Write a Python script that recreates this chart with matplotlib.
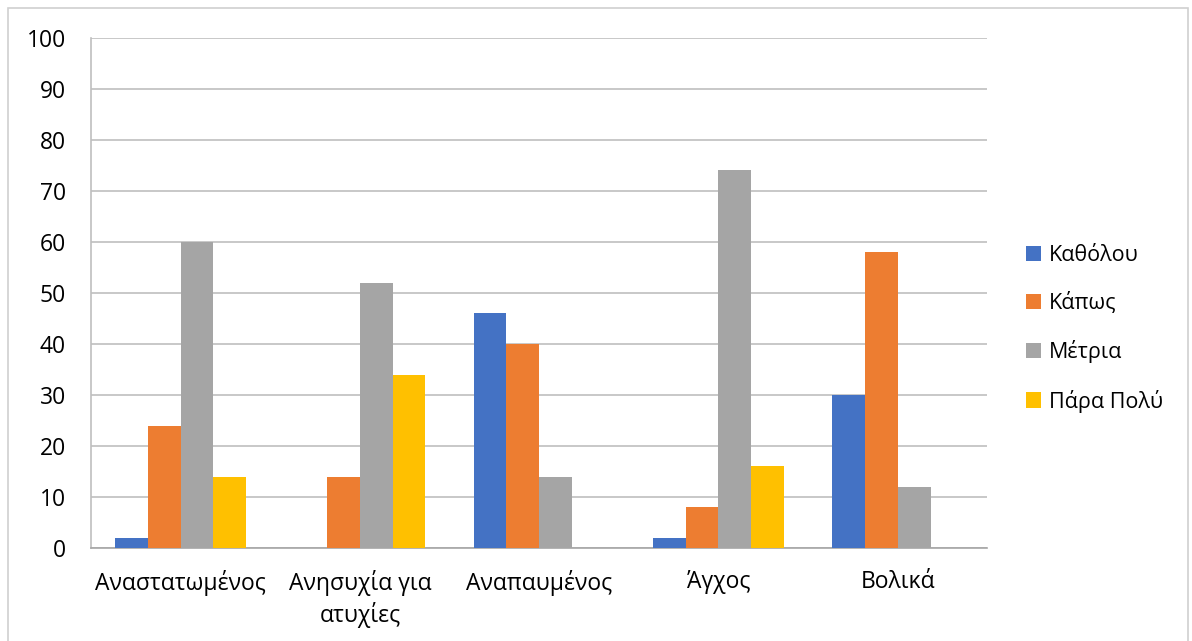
import numpy as np
import matplotlib.pyplot as plt
from matplotlib.patches import Rectangle

plt.rcParams['font.family'] = ['Open Sans', 'DejaVu Sans']

categories = ["Αναστατωμένος", "Ανησυχία για\nατυχίες", "Αναπαυμένος", "Άγχος", "Βολικά"]
series_names = ["Καθόλου", "Κάπως", "Μέτρια", "Πάρα Πολύ"]
katholou = [2, 0, 46, 2, 30]
kapos = [24, 14, 40, 8, 58]
metria = [60, 52, 14, 74, 12]
para_poly = [14, 34, 0, 16, 0]
colors = ["#4472C4", "#ED7D31", "#A5A5A5", "#FFC000"]

fig = plt.figure(figsize=(11.92, 6.41), dpi=100)
ax = fig.add_axes([0.0763, 0.145, 0.752, 0.796])

x = np.arange(len(categories))
w = 0.183
for i, (vals, name) in enumerate(zip([katholou, kapos, metria, para_poly], series_names)):
    ax.bar(x + (i - 1.5) * w, vals, width=w, color=colors[i], label=name, zorder=3)

ax.set_xlim(-0.5, len(categories) - 0.5)
ax.set_ylim(0, 100)
ax.set_yticks(range(0, 101, 10))
ax.yaxis.grid(True, color="#BFBFBF", linewidth=1.2, zorder=0)
ax.set_axisbelow(True)
for side in ["top", "right"]:
    ax.spines[side].set_visible(False)
ax.spines["left"].set_color("#BFBFBF")
ax.spines["bottom"].set_color("#A6A6A6")
ax.spines["left"].set_linewidth(1.2)
ax.spines["bottom"].set_linewidth(1.2)
ax.tick_params(axis="both", length=0, colors="black")
ax.tick_params(axis="y", labelsize=16.5, pad=18)
ax.tick_params(axis="x", labelsize=16.5, pad=16)
ax.set_xticks(x)
ax.set_xticklabels(categories, linespacing=1.3)

ax.legend(loc="center left", bbox_to_anchor=(1.022, 0.43), frameon=False,
          fontsize=15.5, handlelength=0.7, handleheight=0.7, handletextpad=0.35,
          labelspacing=1.22)

# light frame around the whole chart
fig.patches.append(Rectangle((0.007, -0.01), 0.99, 0.998, transform=fig.transFigure,
                             fill=False, edgecolor="#D0D0D0", linewidth=1.2))

fig.savefig("out.png", dpi=100)
